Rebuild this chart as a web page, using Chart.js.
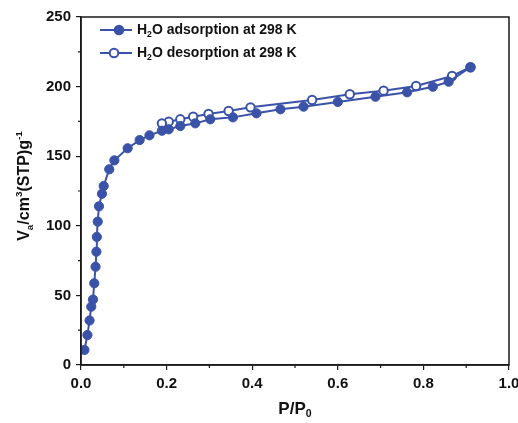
<!DOCTYPE html>
<html>
<head>
<meta charset="utf-8">
<script src="https://cdn.jsdelivr.net/npm/chart.js@4"></script>
<style>
  html, body { margin: 0; padding: 0; background: #fff; }
  #wrap { width: 518px; height: 423px; }
</style>
</head>
<body>
<div id="wrap"><canvas id="iso"></canvas></div>
<script>
// adsorption branch (filled circles)
const adsP = [0.008, 0.015, 0.020, 0.024, 0.028, 0.031, 0.034, 0.036, 0.037, 0.039, 0.042, 0.049, 0.053, 0.066, 0.078, 0.109, 0.137, 0.160, 0.189, 0.205, 0.232, 0.267, 0.302, 0.355, 0.410, 0.466, 0.520, 0.600, 0.688, 0.762, 0.822, 0.859, 0.910];
const adsV = [10.8, 21.5, 32, 41.9, 47, 58.7, 70.6, 81.4, 92, 103, 114, 123, 128.6, 140.6, 147, 155.7, 161.6, 165, 168.3, 169.3, 171.7, 173.6, 176.5, 177.9, 180.8, 183.7, 185.6, 189, 192.7, 195.9, 199.9, 203.5, 213.9];

// desorption branch (open circles)
const desP = [0.910, 0.867, 0.783, 0.707, 0.628, 0.540, 0.396, 0.345, 0.298, 0.262, 0.232, 0.205, 0.189];
const desV = [213.9, 207.6, 200.4, 197.1, 194.5, 190.4, 185.1, 182.5, 180.3, 178.4, 176.5, 174.8, 173.6];

const xTicks = [0, 0.2, 0.4, 0.6, 0.8, 1.0];
const xMinor = [0.1, 0.3, 0.5, 0.7, 0.9];
const yTicks = [0, 50, 100, 150, 200, 250];
const yMinor = [25, 75, 125, 175, 225];

const blue = '#3a52a8';
const ink = '#1a1a1a';
const fam = '"Liberation Sans", Arial, sans-serif';

function pts(xs, ys) {
  return xs.map((x, i) => ({ x: x, y: ys[i] }));
}

// draws text made of pieces: [text, 'n'|'sub'|'sup']
function richText(ctx, parts, x, y, size, align) {
  const small = size * 0.62;
  let total = 0;
  parts.forEach(p => {
    ctx.font = 'bold ' + (p[1] === 'n' ? size : small) + 'px ' + fam;
    total += ctx.measureText(p[0]).width;
  });
  let cx = align === 'center' ? x - total / 2 : x;
  ctx.textAlign = 'left';
  ctx.textBaseline = 'middle';
  parts.forEach(p => {
    const s = p[1] === 'n' ? size : small;
    ctx.font = 'bold ' + s + 'px ' + fam;
    let dy = 0;
    if (p[1] === 'sub') dy = size * 0.32;
    if (p[1] === 'sup') dy = -size * 0.36;
    ctx.fillText(p[0], cx, y + dy);
    cx += ctx.measureText(p[0]).width;
  });
}

const decor = {
  id: 'decor',
  afterDraw(chart) {
    const ctx = chart.ctx;
    const a = chart.chartArea;
    const sx = chart.scales.x, sy = chart.scales.y;
    ctx.save();
    // frame
    ctx.strokeStyle = ink;
    ctx.lineWidth = 1.5;
    ctx.strokeRect(a.left, a.top, a.right - a.left, a.bottom - a.top);
    // minor ticks
    ctx.lineWidth = 1.2;
    ctx.beginPath();
    xMinor.forEach(v => {
      const px = sx.getPixelForValue(v);
      ctx.moveTo(px, a.bottom); ctx.lineTo(px, a.bottom + 3);
    });
    yMinor.forEach(v => {
      const py = sy.getPixelForValue(v);
      ctx.moveTo(a.left, py); ctx.lineTo(a.left - 3, py);
    });
    ctx.stroke();

    // legend
    ctx.fillStyle = '#111';
    const rows = [
      { y: 30, filled: true, mx: 119, label: [['H', 'n'], ['2', 'sub'], ['O adsorption at 298 K', 'n']] },
      { y: 53, filled: false, mx: 114, label: [['H', 'n'], ['2', 'sub'], ['O desorption at 298 K', 'n']] }
    ];
    rows.forEach(r => {
      ctx.strokeStyle = blue;
      ctx.lineWidth = 2;
      ctx.beginPath();
      ctx.moveTo(100, r.y); ctx.lineTo(132, r.y);
      ctx.stroke();
      ctx.beginPath();
      ctx.arc(r.mx, r.y, 4.3, 0, Math.PI * 2);
      ctx.fillStyle = r.filled ? blue : '#fff';
      ctx.fill();
      ctx.stroke();
      ctx.fillStyle = '#111';
      richText(ctx, r.label, 137, r.y, 14, 'left');
    });

    // axis titles
    richText(ctx, [['P/P', 'n'], ['0', 'sub']], (a.left + a.right) / 2, 409, 17, 'center');
    ctx.translate(25, 186);
    ctx.rotate(-Math.PI / 2);
    richText(ctx, [['V', 'n'], ['a', 'sub'], ['/cm', 'n'], ['3', 'sup'], ['(STP)g', 'n'], ['-1', 'sup']], 0, 0, 16, 'center');
    ctx.restore();
  }
};

new Chart(document.getElementById('iso'), {
  type: 'scatter',
  data: {
    datasets: [{
      label: 'H2O adsorption at 298 K',
      data: pts(adsP, adsV),
      showLine: true,
      borderColor: blue,
      backgroundColor: blue,
      borderWidth: 2,
      pointRadius: 4.6,
      pointBorderWidth: 1,
      pointBackgroundColor: blue,
      pointBorderColor: blue
    }, {
      label: 'H2O desorption at 298 K',
      data: pts(desP, desV),
      showLine: true,
      borderColor: blue,
      backgroundColor: '#fff',
      borderWidth: 2,
      pointRadius: 4.2,
      pointBorderWidth: 2,
      pointBackgroundColor: '#fff',
      pointBorderColor: blue
    }]
  },
  options: {
    responsive: true,
    maintainAspectRatio: false,
    animation: false,
    layout: { padding: { top: 17, right: 9, left: 0, bottom: 0 } },
    plugins: { legend: { display: false }, tooltip: { enabled: false } },
    scales: {
      x: {
        type: 'linear',
        min: 0, max: 1,
        afterFit: s => { s.height = 58; s.paddingLeft = 0; s.paddingRight = 0; },
        afterBuildTicks: s => { s.ticks = xTicks.map(v => ({ value: v })); },
        ticks: {
          color: '#111',
          padding: 5,
          font: { family: fam, size: 15, weight: 'bold' },
          callback: v => v.toFixed(1)
        },
        grid: { drawOnChartArea: false, drawTicks: true, tickLength: 5, color: ink, lineWidth: 1.2 },
        border: { display: true, color: ink, width: 1.5 }
      },
      y: {
        min: 0, max: 250,
        afterFit: s => { s.width = 81; s.paddingTop = 0; s.paddingBottom = 0; },
        afterBuildTicks: s => { s.ticks = yTicks.map(v => ({ value: v })); },
        ticks: {
          color: '#111',
          padding: 5,
          font: { family: fam, size: 15, weight: 'bold' }
        },
        grid: { drawOnChartArea: false, drawTicks: true, tickLength: 5, color: ink, lineWidth: 1.2 },
        border: { display: true, color: ink, width: 1.5 }
      }
    }
  },
  plugins: [decor]
});
</script>
</body>
</html>
